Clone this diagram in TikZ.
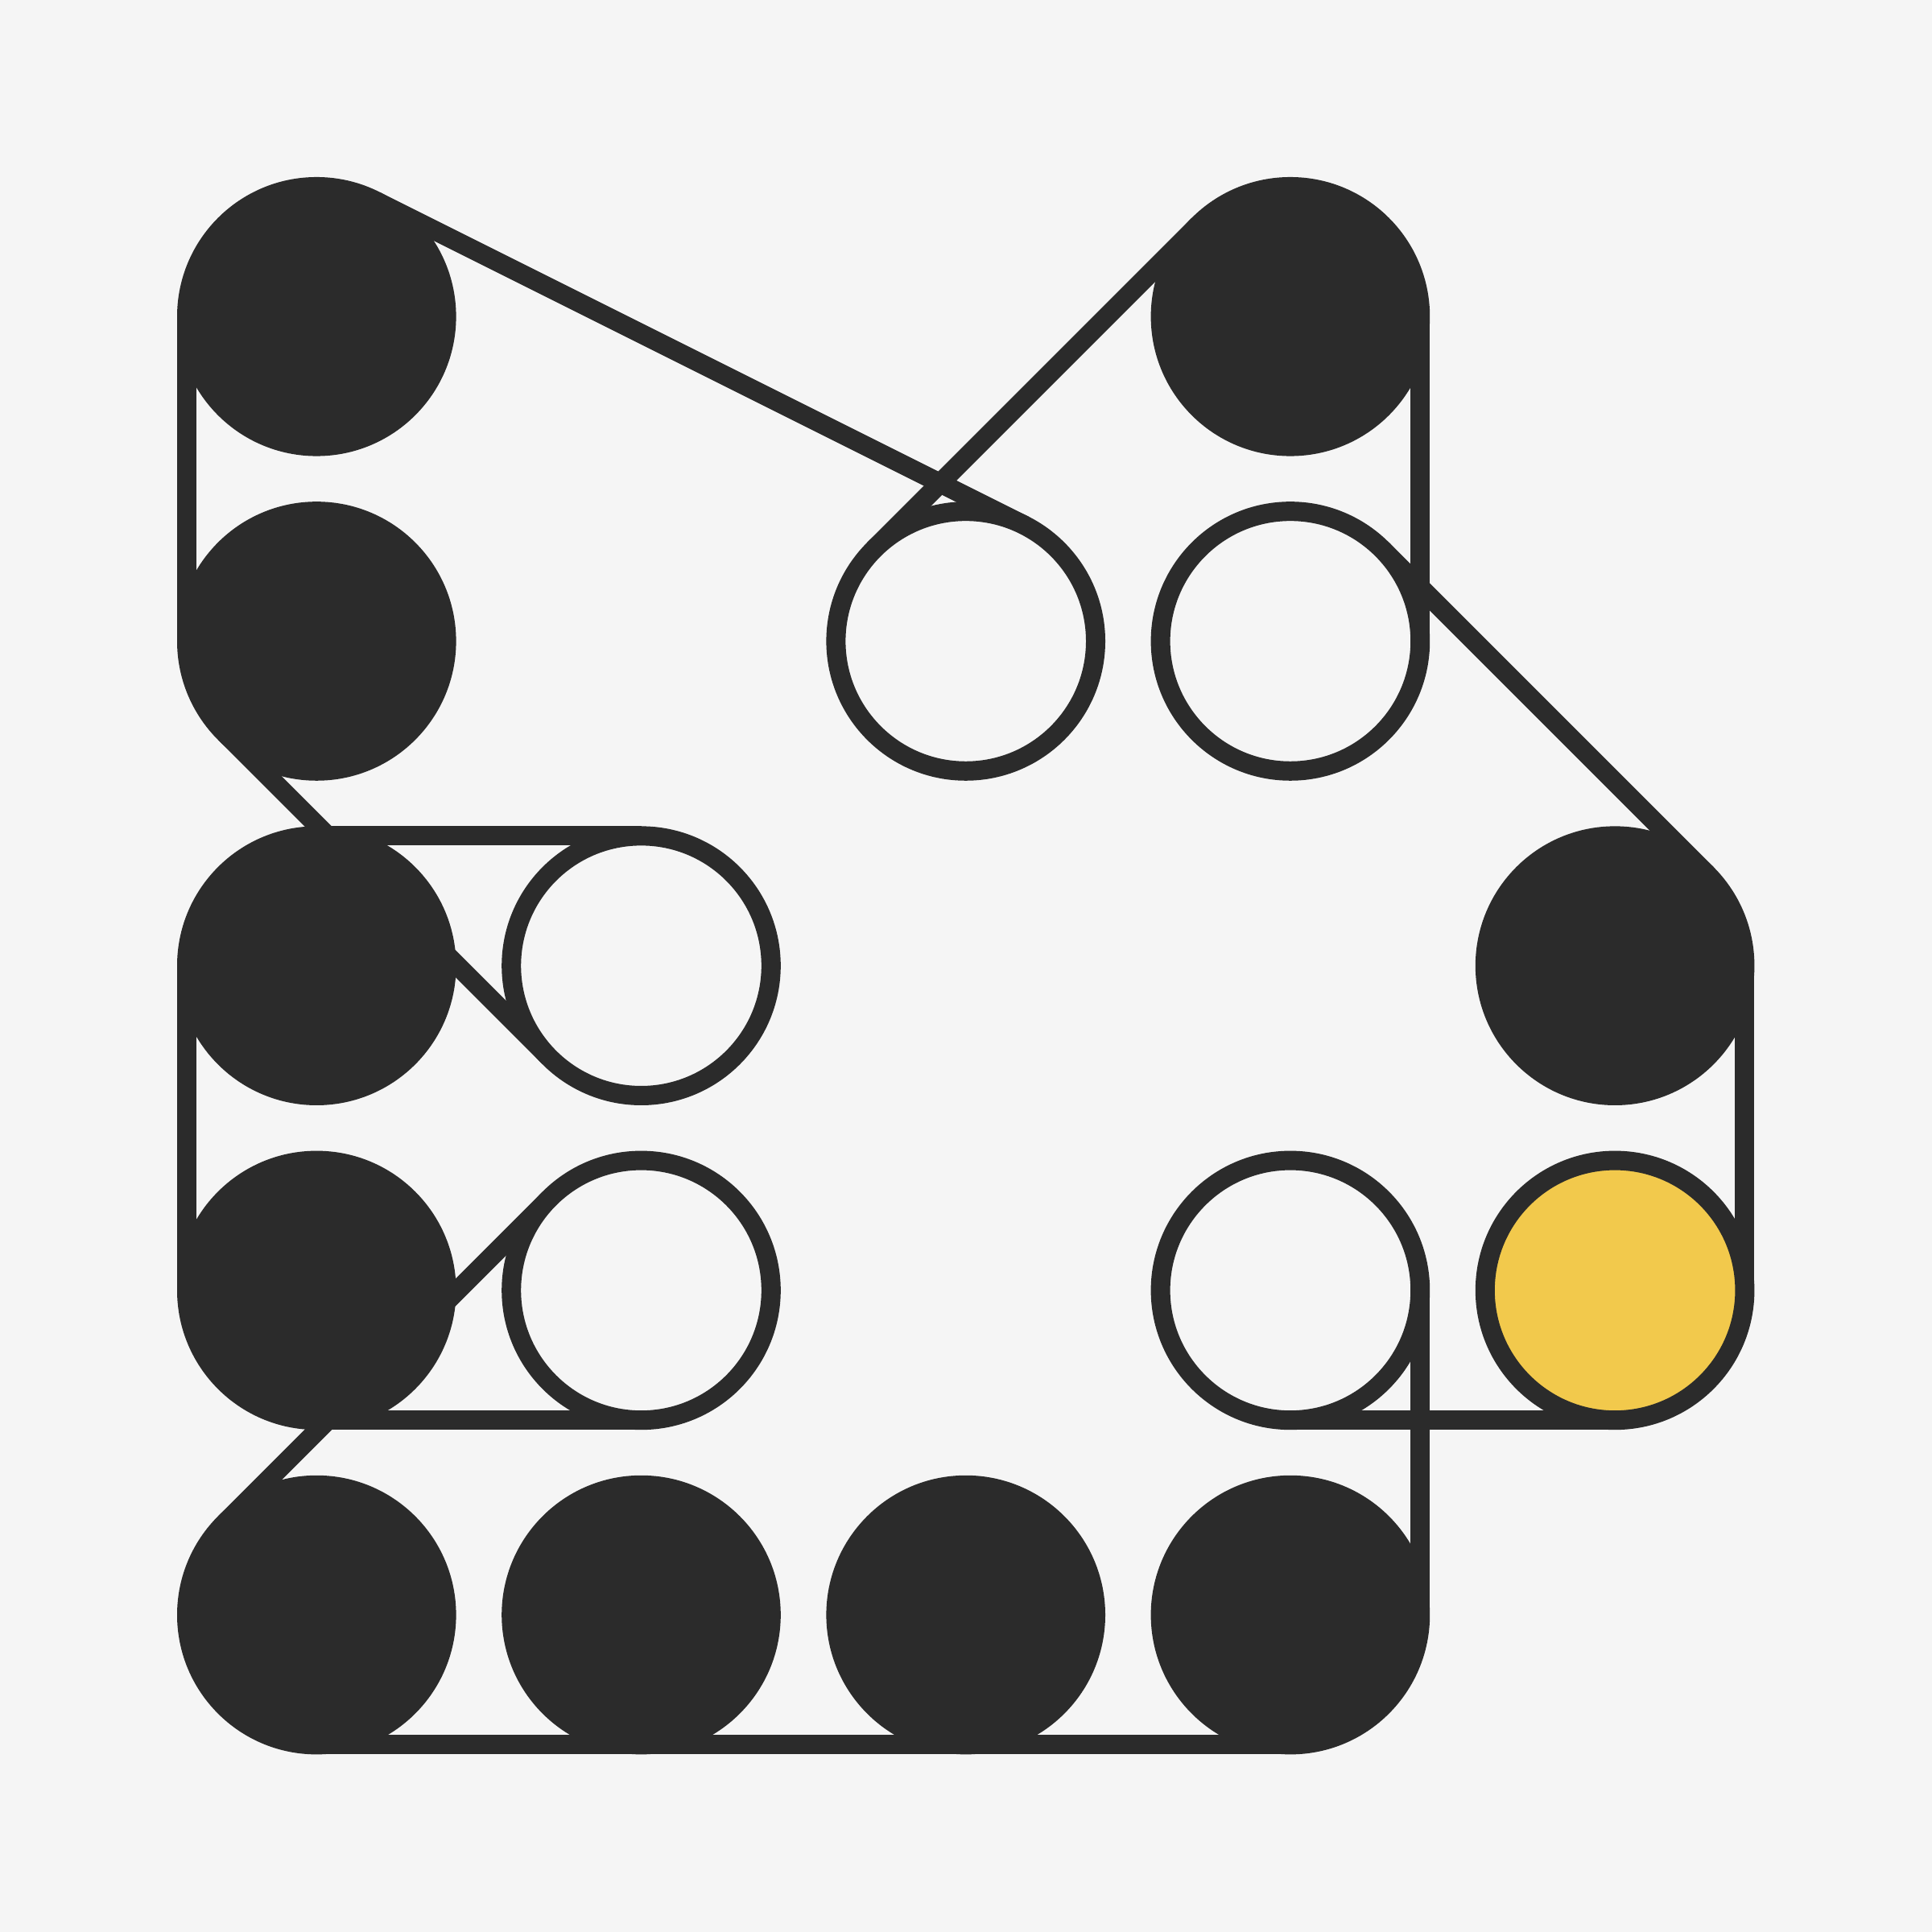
\documentclass[tikz,border=0pt]{standalone}
\definecolor{ink}{HTML}{2B2B2B}
\definecolor{paper}{HTML}{F5F5F5}
\definecolor{gold}{HTML}{F2C94C}
\pgfdeclarelayer{belt}
\pgfsetlayers{belt,main}
\tikzset{
  bead/.style={circle, draw=ink, line width=0.24cm, minimum size=3.226cm, inner sep=0pt, outer sep=0pt},
  filledbead/.style={bead, fill=ink},
  hollowbead/.style={bead, fill=paper},
  goldbead/.style={bead, fill=gold},
  beltline/.style={draw=ink, line width=0.24cm}
}
\begin{document}
\begin{tikzpicture}
    \useasboundingbox (0,0) rectangle (24,24);
    \node[filledbead] (c11) at (3.933,20.067) {};
    \node[filledbead] (c14) at (16.029,20.067) {};
    \node[filledbead] (c21) at (3.933,16.035) {};
    \node[hollowbead] (c23) at (11.997,16.035) {};
    \node[hollowbead] (c24) at (16.029,16.035) {};
    \node[filledbead] (c31) at (3.933,12.003) {};
    \node[hollowbead] (c32) at (7.965,12.003) {};
    \node[filledbead] (c35) at (20.061,12.003) {};
    \node[filledbead] (c41) at (3.933,7.971) {};
    \node[hollowbead] (c42) at (7.965,7.971) {};
    \node[hollowbead] (c44) at (16.029,7.971) {};
    \node[goldbead] (c45) at (20.061,7.971) {};
    \node[filledbead] (c51) at (3.933,3.939) {};
    \node[filledbead] (c52) at (7.965,3.939) {};
    \node[filledbead] (c53) at (11.997,3.939) {};
    \node[filledbead] (c54) at (16.029,3.939) {};
    \begin{pgfonlayer}{belt}
        \fill[paper] (0,0) rectangle (24,24);
        \draw[beltline] (c11.180) -- (c21.180);
        \draw[beltline] (c21.225) -- (c32.225);
        \draw[beltline] (c32.90) -- (c31.90);
        \draw[beltline] (c31.180) -- (c41.180);
        \draw[beltline] (c41.270) -- (c42.270);
        \draw[beltline] (c42.135) -- (c51.135);
        \draw[beltline] (c51.270) -- (c54.270);
        \draw[beltline] (c54.0) -- (c44.0);
        \draw[beltline] (c44.270) -- (c45.270);
        \draw[beltline] (c45.0) -- (c35.0);
        \draw[beltline] (c35.45) -- (c24.45);
        \draw[beltline] (c24.0) -- (c14.0);
        \draw[beltline] (c14.135) -- (c23.135);
        \draw[beltline] (c23.63.435) -- (c11.63.435);
    \end{pgfonlayer}
\end{tikzpicture}
\end{document}
